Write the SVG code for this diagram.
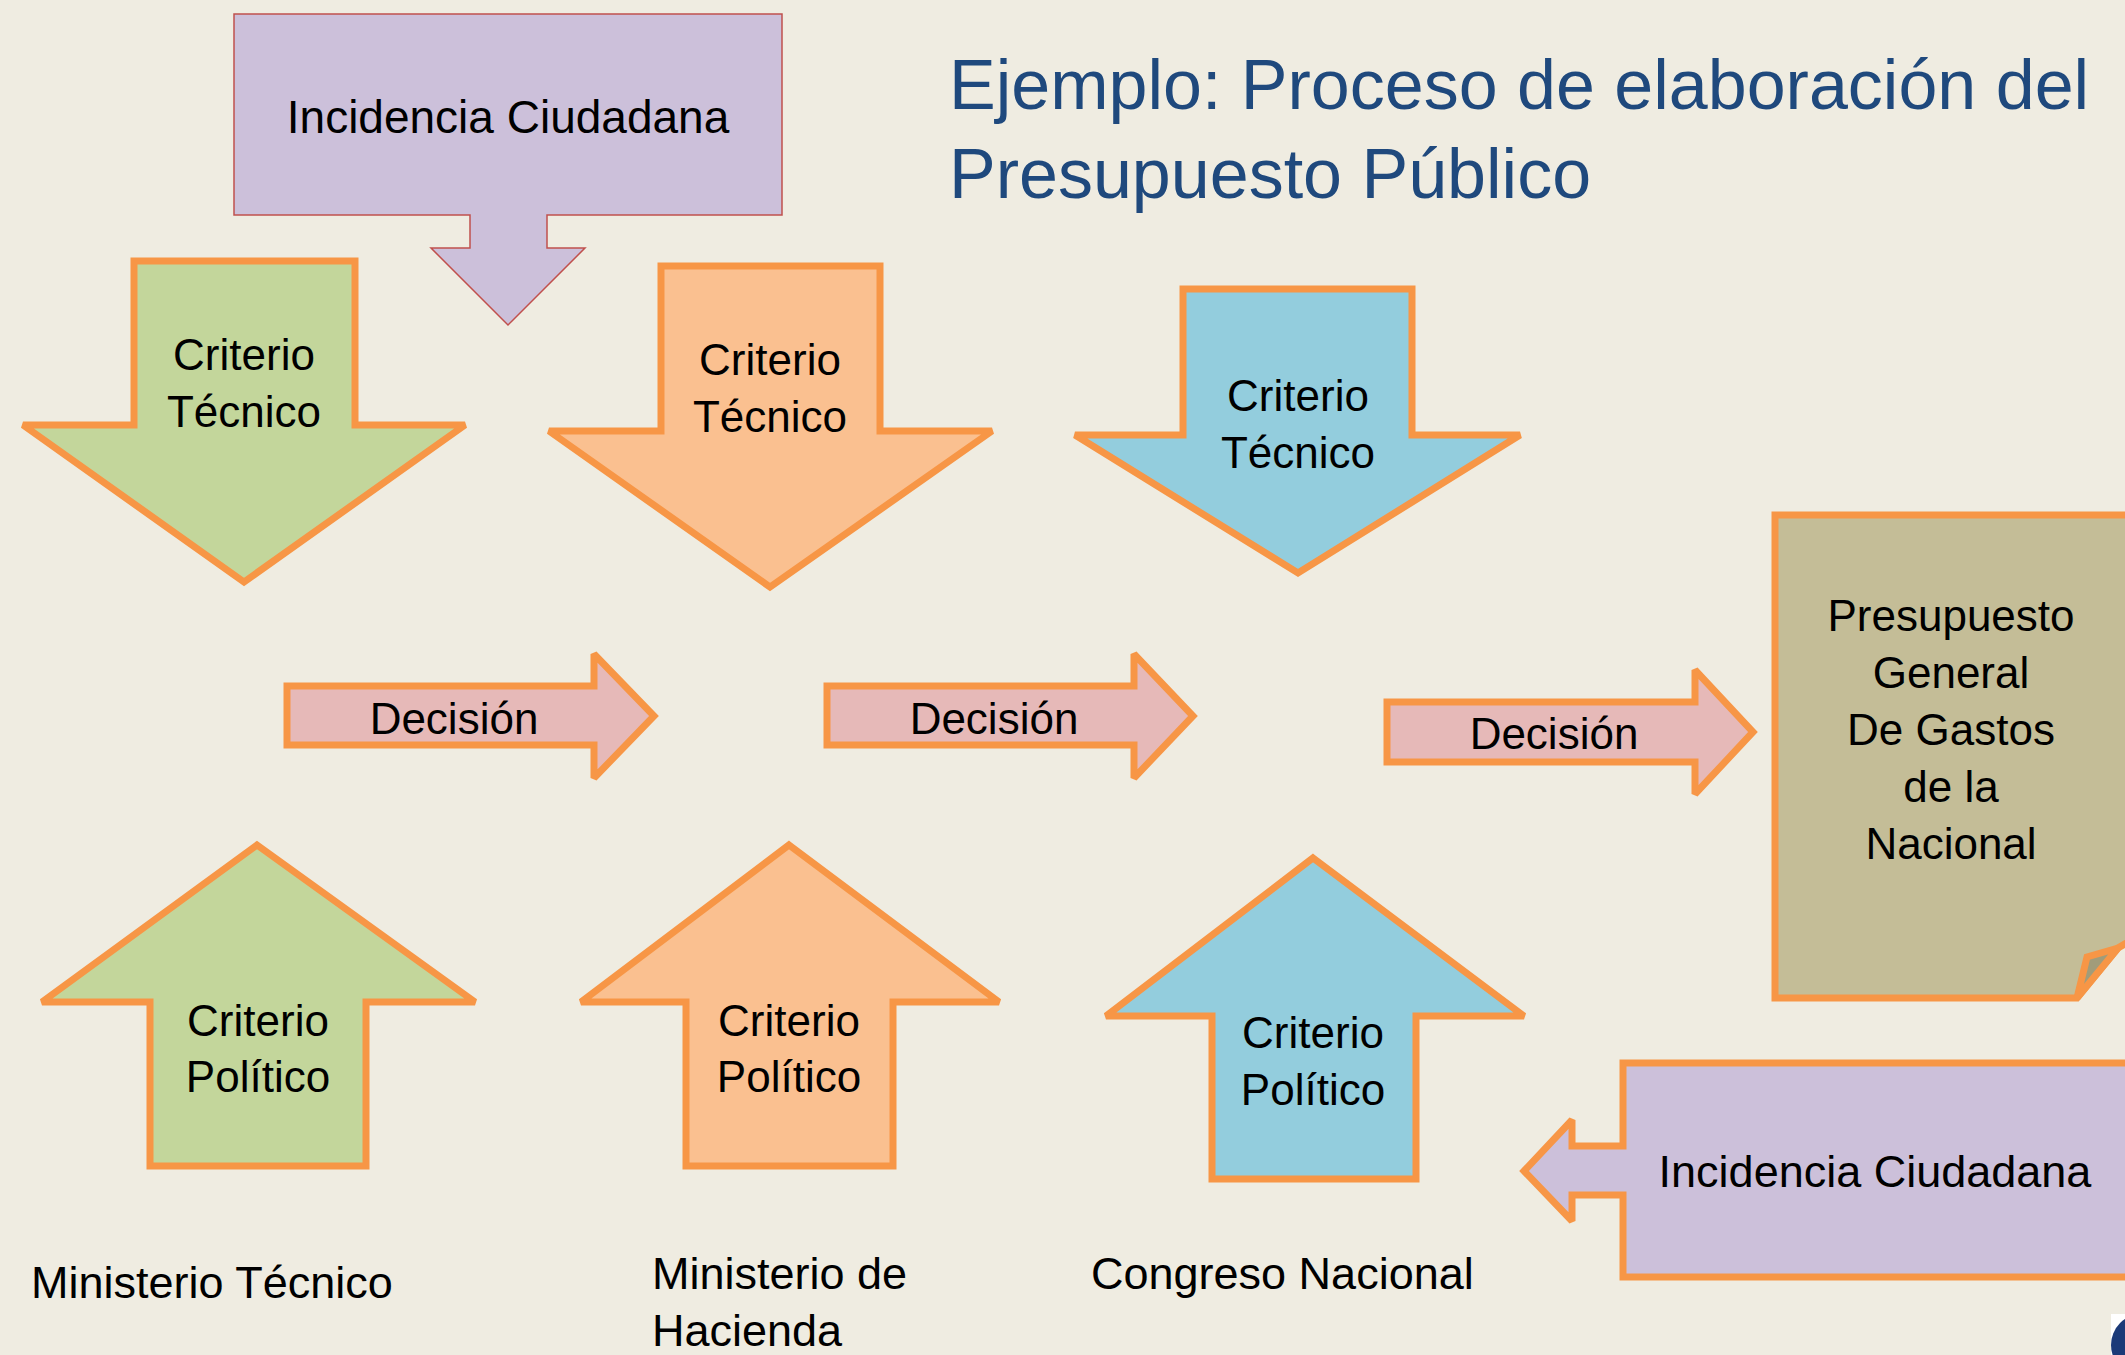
<svg xmlns="http://www.w3.org/2000/svg" width="2125" height="1355" viewBox="0 0 2125 1355">
<style>
.sh{stroke:#f79646;stroke-width:7;stroke-linejoin:miter;stroke-miterlimit:2.2}
.t{font-family:"Liberation Sans",Arial,sans-serif;font-size:44px;fill:#000;text-anchor:middle}
.lbl{font-family:"Liberation Sans",Arial,sans-serif;font-size:45px;fill:#000}
.title{font-family:"Liberation Sans",Arial,sans-serif;font-size:70px;fill:#1f497d}
.green{fill:#c3d69b}.orange{fill:#fac090}.blue{fill:#93cddd}.pink{fill:#e6b9b8}.purple{fill:#ccc0da}.tan{fill:#c4bd97}
</style>
<rect x="0" y="0" width="2125" height="1355" fill="#efece1"/>
<g id="title">
<text class="title" x="949" y="109">Ejemplo: Proceso de elaboración del</text>
<text class="title" x="949" y="198">Presupuesto Público</text>
</g>
<g id="incidencia-top">
<polygon class="purple" stroke="#c0504d" stroke-width="1.5" points="234,14 782,14 782,215 547,215 547,248 585,248 508,325 431,248 470,248 470,215 234,215"/>
<text class="t" x="508" y="133" style="font-size:46px">Incidencia Ciudadana</text>
</g>
<g id="tecnico-1">
<polygon class="green sh" points="134,261 355,261 355,425 465,425 244,582 23,425 134,425"/>
<text class="t" x="244" y="370">Criterio</text>
<text class="t" x="244" y="427">Técnico</text>
</g>
<g id="tecnico-2">
<polygon class="orange sh" points="661,266 880,266 880,431 992,431 770,587 549,431 661,431"/>
<text class="t" x="770" y="375">Criterio</text>
<text class="t" x="770" y="432">Técnico</text>
</g>
<g id="tecnico-3">
<polygon class="blue sh" points="1183,289 1412,289 1412,435 1520,435 1298,573 1075,435 1183,435"/>
<text class="t" x="1298" y="411">Criterio</text>
<text class="t" x="1298" y="468">Técnico</text>
</g>
<g id="decision-1">
<polygon class="pink sh" points="287,686 594,686 594,654 654,716 594,778 594,745 287,745"/>
<text class="t" x="454" y="734">Decisión</text>
</g>
<g id="decision-2">
<polygon class="pink sh" points="827,686 1134,686 1134,654 1193,716 1134,778 1134,745 827,745"/>
<text class="t" x="994" y="734">Decisión</text>
</g>
<g id="decision-3">
<polygon class="pink sh" points="1387,702 1695,702 1695,670 1753,732 1695,794 1695,762 1387,762"/>
<text class="t" x="1554" y="749">Decisión</text>
</g>
<g id="presupuesto">
<polygon class="tan sh" points="1775,515 2140,515 2140,935 2118,948 2077,998 1775,998"/>
<polygon class="sh" fill="#a19c7a" points="2077,998 2087,957 2118,948"/>
<text class="t" x="1951" y="631">Presupuesto</text>
<text class="t" x="1951" y="688">General</text>
<text class="t" x="1951" y="745">De Gastos</text>
<text class="t" x="1951" y="802">de la</text>
<text class="t" x="1951" y="859">Nacional</text>
</g>
<g id="politico-1">
<polygon class="green sh" points="257,845 475,1002 366,1002 366,1166 150,1166 150,1002 42,1002"/>
<text class="t" x="258" y="1036">Criterio</text>
<text class="t" x="258" y="1092">Político</text>
</g>
<g id="politico-2">
<polygon class="orange sh" points="789,845 999,1002 893,1002 893,1166 686,1166 686,1002 581,1002"/>
<text class="t" x="789" y="1036">Criterio</text>
<text class="t" x="789" y="1092">Político</text>
</g>
<g id="politico-3">
<polygon class="blue sh" points="1313,858 1524,1016 1416,1016 1416,1179 1212,1179 1212,1016 1106,1016"/>
<text class="t" x="1313" y="1048">Criterio</text>
<text class="t" x="1313" y="1105">Político</text>
</g>
<g id="incidencia-bottom">
<polygon class="purple sh" points="1623,1063 2140,1063 2140,1277 1623,1277 1623,1195 1572,1195 1572,1221 1524,1171 1572,1120 1572,1146 1623,1146"/>
<text class="t" x="1875" y="1187" style="font-size:45px">Incidencia Ciudadana</text>
</g>
<g id="labels">
<text class="lbl" x="31" y="1298">Ministerio Técnico</text>
<text class="lbl" x="652" y="1289">Ministerio de</text>
<text class="lbl" x="652" y="1346">Hacienda</text>
<text class="lbl" x="1091" y="1289">Congreso Nacional</text>
</g>
<g id="logo">
<rect x="2111" y="1314" width="14" height="41" fill="#ffffff"/>
<circle cx="2142" cy="1345" r="31" fill="#1b3a78"/>
</g>
<g id="connectors"></g>
</svg>
